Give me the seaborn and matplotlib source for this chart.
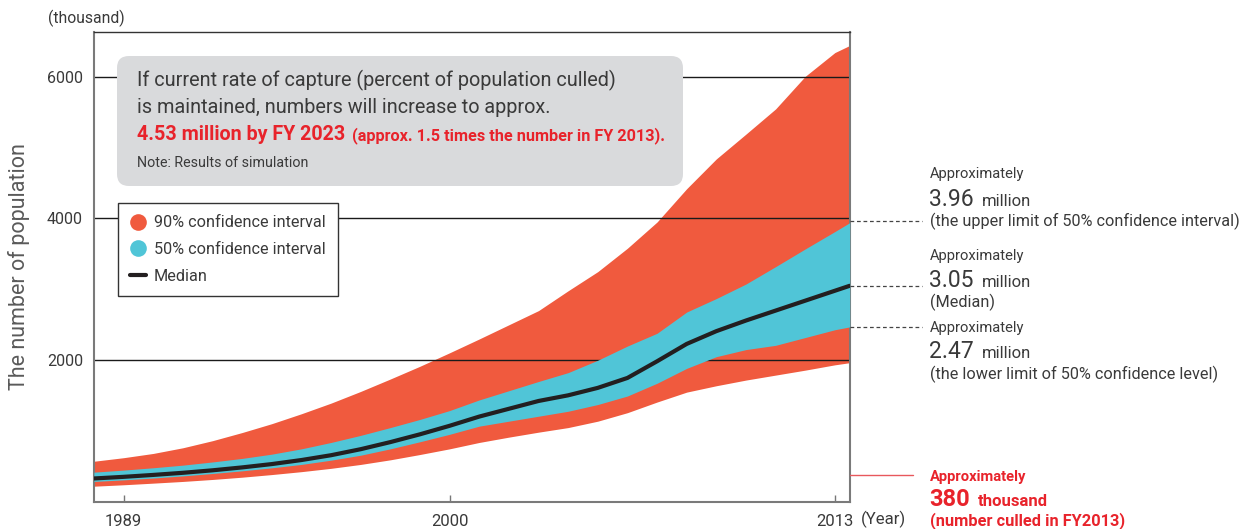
import matplotlib
matplotlib.use("Agg")
import matplotlib.pyplot as plt
import seaborn as sns
import pandas as pd
from matplotlib.patches import FancyBboxPatch
from matplotlib.lines import Line2D

# Simulated population (thousand)
years = [1988, 1989, 1990, 1991, 1992, 1993, 1994, 1995, 1996, 1997, 1998, 1999, 2000,
         2001, 2002, 2003, 2004, 2005, 2006, 2007, 2008, 2009, 2010, 2011, 2012, 2013, 2013.5]
upper_90 = [575, 625, 685, 765, 865, 980, 1105, 1245, 1395, 1560, 1735, 1915, 2105,
            2300, 2500, 2700, 2980, 3250, 3580, 3950, 4420, 4840, 5190, 5545, 6005, 6340, 6440]
upper_50 = [421, 450, 483, 520, 565, 615, 675, 750, 840, 940, 1050, 1165, 1290,
            1440, 1570, 1700, 1825, 2000, 2200, 2380, 2680, 2870, 3075, 3320, 3570, 3815, 3940]
median = [332, 355, 382, 412, 447, 488, 535, 592, 660, 745, 845, 955, 1075,
          1205, 1315, 1425, 1505, 1610, 1750, 1985, 2230, 2410, 2560, 2700, 2840, 2980, 3050]
lower_50 = [290, 312, 338, 368, 402, 440, 482, 530, 590, 660, 750, 850, 955,
            1070, 1140, 1210, 1280, 1375, 1495, 1675, 1885, 2050, 2150, 2210, 2320, 2430, 2470]
lower_90 = [223, 243, 266, 290, 318, 350, 387, 428, 475, 530, 595, 670, 750,
            840, 915, 985, 1050, 1140, 1260, 1410, 1550, 1640, 1720, 1790, 1860, 1935, 1965]

tick_years = [1989, 2000, 2013]
tick_labels = ["1989", "2000", "2013"]
y_ticks = [2000, 4000, 6000]
end_values = [3960, 3050, 2470]
culled_2013 = 380

sns.set_theme(style="white")
plt.rcParams['font.family'] = ['Roboto', 'DejaVu Sans']

RED = "#f05a3e"
CYAN = "#50c5d7"
DARK = "#231f20"
TEXT_RED = "#e8232b"
GREY_TEXT = "#3a3a3a"

df = pd.DataFrame({"year": years, "upper_90": upper_90, "upper_50": upper_50,
                   "median": median, "lower_50": lower_50, "lower_90": lower_90})

W, H = 1252, 529
fig = plt.figure(figsize=(W / 100, H / 100), dpi=100)
ax = fig.add_axes([94 / W, 27 / H, 755.7 / W, 470 / H])

ax.fill_between(df["year"], df["lower_90"], df["upper_90"], color=RED, lw=0, zorder=1)
for v in y_ticks:
    ax.axhline(v, color="#1a1a1a", lw=1, zorder=2)
ax.fill_between(df["year"], df["lower_50"], df["upper_50"], color=CYAN, lw=0, zorder=3)
sns.lineplot(data=df, x="year", y="median", color=DARK, lw=3, ax=ax, zorder=4)

ax.set_xlim(1988, 2013.5)
ax.set_ylim(0, 6630)
ax.set_xlabel("")
ax.set_ylabel("The number of population", fontsize=15.5, color="#5a5a5a", labelpad=12)
ax.set_xticks(tick_years)
ax.set_xticklabels(tick_labels)
ax.set_yticks(y_ticks)
ax.set_yticklabels([str(v) for v in y_ticks])
ax.tick_params(axis="x", direction="in", length=5, width=1, color="#777777",
               labelsize=12, labelcolor=GREY_TEXT, pad=9, bottom=True)
ax.tick_params(axis="y", length=0, labelsize=11.5, labelcolor=GREY_TEXT, pad=8)
for side in ["left", "bottom", "right"]:
    ax.spines[side].set_color("#7a7a7a")
    ax.spines[side].set_linewidth(1.5)
ax.spines["top"].set_color("#333333")
ax.spines["top"].set_linewidth(1)

ax.annotate("(Year)", xy=(2013, 0), xycoords=("data", "axes fraction"),
            xytext=(19, -12.5), textcoords="offset points", ha="left", va="center",
            fontsize=12, color=GREY_TEXT)


def ftxt(xpx, ypx, s, **kw):
    kw.setdefault("va", "baseline")
    kw.setdefault("color", GREY_TEXT)
    fig.text(xpx / W, 1 - ypx / H, s, **kw)


ftxt(48, 23, "(thousand)", fontsize=11.3)

# note box
box = FancyBboxPatch((117 / 100, (H - 186) / 100), 566 / 100, 130 / 100,
                     boxstyle="round,pad=0,rounding_size=0.12",
                     transform=fig.dpi_scale_trans, fc="#d9dadc", ec="none", zorder=5)
ax.add_patch(box)
ftxt(137, 86, "If current rate of capture (percent of population culled)", fontsize=14.3)
ftxt(137, 113, "is maintained, numbers will increase to approx.", fontsize=14.3)
ftxt(137, 140, "4.53 million by FY 2023", fontsize=14.2, fontweight="bold", color=TEXT_RED)
ftxt(352, 140, "(approx. 1.5 times the number in FY 2013).", fontsize=11.7,
     fontweight="bold", color=TEXT_RED)
ftxt(137, 167, "Note: Results of simulation", fontsize=10.3)

# legend
handles = [Line2D([], [], marker="o", ls="none", markersize=12, markerfacecolor=RED,
                  markeredgecolor="none"),
           Line2D([], [], marker="o", ls="none", markersize=12, markerfacecolor=CYAN,
                  markeredgecolor="none"),
           Line2D([], [], color=DARK, lw=3)]
leg = ax.legend(handles, ["90% confidence interval", "50% confidence interval", "Median"],
                loc="upper left", bbox_to_anchor=(24 / 755.7, (502 - 203) / 470),
                frameon=True, fancybox=False, framealpha=1, edgecolor="#333333",
                borderaxespad=0, fontsize=11.7, handlelength=1.0, handletextpad=0.45,
                labelspacing=0.72, borderpad=0.75)
leg.get_frame().set_linewidth(1)
for t in leg.get_texts():
    t.set_color(GREY_TEXT)
leg.set_zorder(6)

# leader lines at the right edge
x_end = 2013.5
for v in end_values:
    ax.plot([x_end, x_end + 2.45], [v, v], ls=(0, (3, 2.2)), color="#444444", lw=0.9,
            clip_on=False, zorder=6)
ax.plot([x_end, x_end + 2.15], [culled_2013, culled_2013], color="#e8585c", lw=1,
        clip_on=False, zorder=6)

groups = [(178, 206, 226, "3.96", "(the upper limit of 50% confidence interval)"),
          (260, 287, 307, "3.05", "(Median)"),
          (332, 358, 379, "2.47", "(the lower limit of 50% confidence level)")]
for y1, y2, y3, num, note in groups:
    ftxt(930, y1, "Approximately", fontsize=10.6)
    ftxt(929, y2, num, fontsize=16.5)
    ftxt(982, y2, "million", fontsize=12)
    ftxt(930, y3, note, fontsize=11.7)

ftxt(930, 481, "Approximately", fontsize=10.6, fontweight="bold", color=TEXT_RED)
ftxt(929, 506, str(culled_2013), fontsize=17, fontweight="bold", color=TEXT_RED)
ftxt(978, 506, "thousand", fontsize=12, fontweight="bold", color=TEXT_RED)
ftxt(930, 525, "(number culled in FY2013)", fontsize=11.8, fontweight="bold", color=TEXT_RED)

fig.savefig("out.png", dpi=100)
